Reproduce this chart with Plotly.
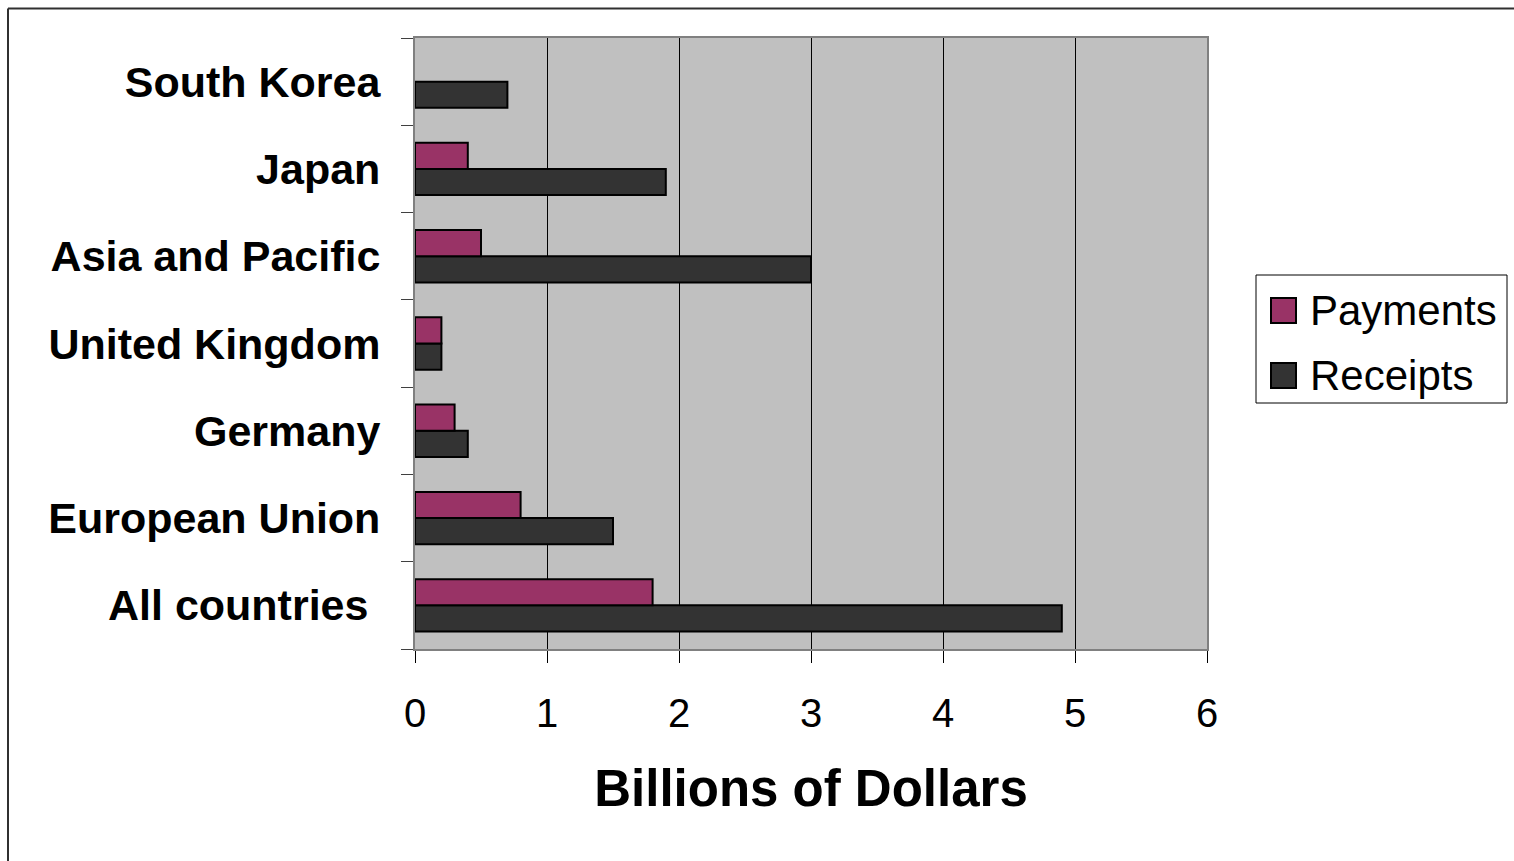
import plotly.graph_objects as go

categories = ["All countries", "European Union", "Germany", "United Kingdom",
              "Asia and Pacific", "Japan", "South Korea"]
payments = [1.8, 0.8, 0.3, 0.2, 0.5, 0.4, None]
receipts = [4.9, 1.5, 0.4, 0.2, 3.0, 1.9, 0.7]
series_names = ["Payments", "Receipts"]
series_colors = ["#993366", "#333333"]
x_ticks = [0, 1, 2, 3, 4, 5, 6]
x_title = "Billions of Dollars"

W, H = 1514, 861
L, R, T, B = 415, 1207, 38, 649

fig = go.Figure()
fig.add_trace(go.Bar(y=categories, x=receipts, orientation="h", name=series_names[1],
                     marker=dict(color=series_colors[1], line=dict(color="black", width=2)),
                     showlegend=False))
fig.add_trace(go.Bar(y=categories, x=payments, orientation="h", name=series_names[0],
                     marker=dict(color=series_colors[0], line=dict(color="black", width=2)),
                     showlegend=False))

def px(xp):
    return (xp - L) / (R - L)

def py(yp):
    return (B - yp) / (B - T)

shapes = [
    # outer border (top and left edges only visible)
    dict(type="line", xref="paper", yref="paper", x0=px(8), x1=px(1514), y0=py(8.5), y1=py(8.5),
         line=dict(color="#303030", width=2)),
    dict(type="line", xref="paper", yref="paper", x0=px(8), x1=px(8), y0=py(8.5), y1=py(861),
         line=dict(color="#303030", width=2)),
    # legend box
    dict(type="rect", xref="paper", yref="paper", x0=px(1256), x1=px(1507), y0=py(275), y1=py(403),
         line=dict(color="black", width=1), fillcolor="white"),
]
annotations = []
sq_tops = [298, 363]
for name, color, top in zip(series_names, series_colors, sq_tops):
    shapes.append(dict(type="rect", xref="paper", yref="paper", x0=px(1271), x1=px(1296),
                       y0=py(top), y1=py(top + 25), line=dict(color="black", width=2),
                       fillcolor=color))
    annotations.append(dict(xref="paper", yref="paper", x=px(1308), y=py(top + 12.5),
                            text=name, showarrow=False, xanchor="left", yanchor="middle",
                            font=dict(family="Liberation Sans, Arial", size=42, color="black")))

tick_text = ["<b>" + c + ("&nbsp;" if c == "All countries" else "") + "</b>" for c in categories]

fig.update_layout(
    width=W, height=H,
    margin=dict(l=L, r=W - R, t=T, b=H - B, pad=0),
    paper_bgcolor="white",
    plot_bgcolor="#C0C0C0",
    barmode="group",
    bargap=0.4,
    bargroupgap=0,
    showlegend=False,
    font=dict(family="Liberation Sans, Arial", color="black"),
    shapes=shapes,
    annotations=annotations,
    xaxis=dict(
        range=[0, 6], tickvals=x_ticks, ticktext=[str(v) for v in x_ticks],
        showgrid=True, gridcolor="black", gridwidth=1, zeroline=False,
        showline=True, linecolor="#808080", linewidth=2, mirror=True,
        ticks="outside", ticklen=12, tickcolor="black", tickwidth=1,
        tickfont=dict(size=40, family="Liberation Sans, Arial"),
        ticklabelstandoff=16,
        title=dict(text="<b>" + x_title + "</b>", font=dict(size=51, family="Liberation Sans, Arial"),
                   standoff=36),
    ),
    yaxis=dict(
        categoryorder="array", categoryarray=categories,
        showgrid=False, zeroline=False,
        showline=True, linecolor="#808080", linewidth=2, mirror=True,
        ticks="outside", tickson="boundaries", ticklen=12, tickcolor="#404040", tickwidth=1,
        tickfont=dict(size=43, family="Liberation Sans, Arial"),
        ticklabelstandoff=24,
        tickvals=categories,
        ticktext=tick_text,
    ),
)

fig.write_html("out.html")
